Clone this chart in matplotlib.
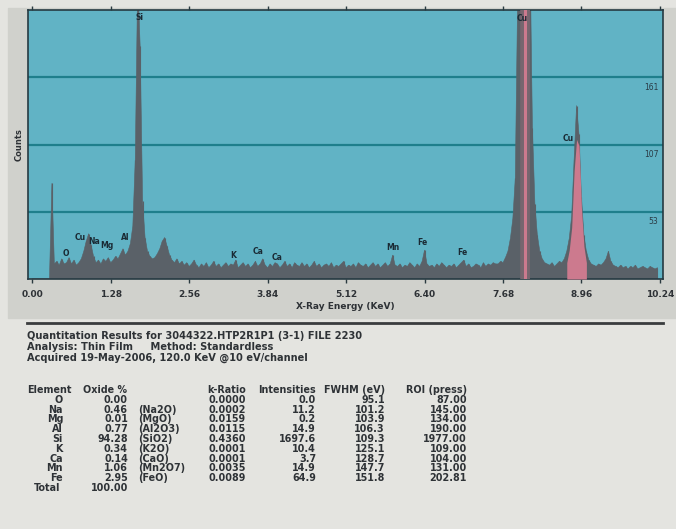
import numpy as np
import matplotlib
matplotlib.use("Agg")
import matplotlib.pyplot as plt
from matplotlib.patches import Rectangle
from matplotlib.lines import Line2D

plt.rcParams["font.family"] = ["DejaVu Sans"]

# EDS spectrum, one value per 0.04 keV channel starting at 0.00 keV
channel_kev = 0.04
counts = [
    0, 0, 0, 0, 0, 0, 0, 0, 76, 12,            # 0.00 - 0.36
    14, 11, 16, 12, 13, 17, 12, 15, 11, 13,     # 0.40 - 0.76
    16, 22, 30, 36, 27, 18, 13, 15, 12, 16,     # 0.80 - 1.16
    14, 17, 13, 15, 18, 16, 20, 24, 19, 22,     # 1.20 - 1.56
    28, 42, 95, 240, 185, 62, 33, 22, 18, 16,   # 1.60 - 1.96
    17, 20, 24, 30, 33, 26, 19, 15, 13, 16,     # 2.00 - 2.36
    12, 14, 11, 13, 10, 12, 15, 11, 9, 12,      # 2.40 - 2.76
    10, 13, 9, 11, 14, 10, 12, 9, 11, 13,       # 2.80 - 3.16
    10, 12, 11, 15, 9, 11, 13, 10, 12, 9,       # 3.20 - 3.56
    11, 14, 10, 12, 16, 11, 9, 12, 10, 13,      # 3.60 - 3.96
    12, 9, 11, 14, 10, 12, 9, 13, 11, 10,       # 4.00 - 4.36
    13, 10, 12, 9, 11, 14, 10, 12, 9, 11,       # 4.40 - 4.76
    12, 10, 13, 9, 11, 10, 12, 14, 9, 11,       # 4.80 - 5.16
    10, 12, 9, 13, 11, 10, 12, 9, 11, 13,       # 5.20 - 5.56
    10, 12, 9, 11, 13, 10, 12, 19, 11, 10,      # 5.60 - 5.96
    12, 9, 11, 10, 13, 11, 9, 12, 10, 14,       # 6.00 - 6.36
    23, 12, 10, 11, 9, 12, 10, 13, 11, 9,       # 6.40 - 6.76
    11, 10, 12, 9, 11, 13, 15, 10, 12, 9,       # 6.80 - 7.16
    10, 12, 11, 9, 13, 10, 12, 11, 13, 12,      # 7.20 - 7.56
    12, 14, 13, 17, 22, 32, 48, 80, 230, 420,   # 7.60 - 7.96
    600, 600, 450, 260, 120, 60, 35, 22, 16, 13,  # 8.00 - 8.36
    12, 11, 13, 10, 12, 14, 13, 16, 22, 32,     # 8.40 - 8.76
    50, 95, 138, 115, 65, 35, 22, 15, 12, 11,   # 8.80 - 9.16
    10, 12, 11, 13, 16, 22, 14, 11, 10, 9,      # 9.20 - 9.56
    11, 9, 10, 8, 10, 9, 11, 8, 9, 10,          # 9.60 - 9.96
    9, 8, 10, 9, 8, 9,                          # 10.00 - 10.20
]

tick_kev = [0.00, 1.28, 2.56, 3.84, 5.12, 6.40, 7.68, 8.96, 10.24]
grid_counts = [53.5, 107, 160.5]
grid_labels = ["53", "107", "161"]
full_scale = 214

# peak labels: (text, energy keV, counts)
peak_labels = [
    ("O", 0.54, 20), ("Cu", 0.78, 33), ("Na", 1.01, 30), ("Mg", 1.21, 27),
    ("Al", 1.52, 33), ("Si", 1.75, 208), ("K", 3.28, 19), ("Ca", 3.68, 22),
    ("Ca", 4.00, 17), ("Mn", 5.88, 25), ("Fe", 6.37, 29), ("Fe", 7.01, 21),
    ("Cu", 7.99, 207), ("Cu", 8.74, 112),
]
cu_ka_kev = 8.04
cu_ka_roi = (7.96, 8.12)
cu_kb_roi = (8.72, 9.04)
cu_kb_cap = 120
roi_margin = 9

# quantitation table
elements = ["O", "Na", "Mg", "Al", "Si", "K", "Ca", "Mn", "Fe"]
oxide_pct = ["0.00", "0.46", "0.01", "0.77", "94.28", "0.34", "0.14", "1.06", "2.95"]
oxides = ["", "(Na2O)", "(MgO)", "(Al2O3)", "(SiO2)", "(K2O)", "(CaO)", "(Mn2O7)", "(FeO)"]
k_ratio = ["0.0000", "0.0002", "0.0159", "0.0115", "0.4360", "0.0001", "0.0001", "0.0035", "0.0089"]
intensities = ["0.0", "11.2", "0.2", "14.9", "1697.6", "10.4", "3.7", "14.9", "64.9"]
fwhm = ["95.1", "101.2", "103.9", "106.3", "109.3", "125.1", "128.7", "147.7", "151.8"]
roi = ["87.00", "145.00", "134.00", "190.00", "1977.00", "109.00", "104.00", "131.00", "202.81"]
total_pct = "100.00"

W, H = 676, 529
page_bg = "#e4e4e0"
panel_bg = "#d0d1cc"
plot_bg = "#61b3c5"
grid_col = "#1f7f8c"
spec_col = "#5a6168"
pink = "#cc7a8e"
mauve = "#76666f"
ink = "#2e3236"

fig = plt.figure(figsize=(W / 100, H / 100), dpi=100, facecolor=page_bg)


def fx(x):
    return x / W


def fy(y):
    return 1 - y / H


# grey panel behind the spectrum
fig.patches.append(Rectangle((fx(8), fy(318)), fx(W - 8), 310 / H,
                             transform=fig.transFigure, color=panel_bg, zorder=-5))

ax = fig.add_axes([fx(28), fy(279), 635 / W, 269 / H])
ax.set_facecolor(plot_bg)

energy = np.arange(len(counts)) * channel_kev
counts = np.array(counts, dtype=float)

for g in grid_counts:
    ax.axhline(g, color=grid_col, lw=1.6, zorder=1)

ax.fill_between(energy, counts, color=spec_col, lw=0.4, edgecolor=spec_col, zorder=2)
ax.vlines(energy, 0, counts, color=spec_col, lw=0.8, zorder=2)

# highlighted Cu regions
ka = (energy >= cu_ka_roi[0] - 1e-9) & (energy <= cu_ka_roi[1] + 1e-9)
ax.fill_between(energy[ka], counts[ka] * 0.97, color=mauve, lw=0, zorder=3)
ax.axvline(cu_ka_kev, color=pink, lw=2.2, zorder=4)
kb = (energy >= cu_kb_roi[0] - 1e-9) & (energy <= cu_kb_roi[1] + 1e-9)
kb_fill = np.clip(np.minimum(counts[kb], cu_kb_cap) - roi_margin, 0, None)
ax.fill_between(energy[kb], kb_fill, color=pink, lw=0, zorder=3)

for txt, e, c in peak_labels:
    ax.text(e, c, txt, fontsize=5.5, fontweight="bold", color="#1a2a34",
            ha="center", va="center", zorder=5)

for g, lab in zip(grid_counts, grid_labels):
    ax.text(0.993, g - 8, lab, transform=ax.get_yaxis_transform(),
            fontsize=5.5, color="#2a3a44", ha="right", va="center", zorder=5)

ax.set_xlim(-0.07, 10.29)
ax.set_ylim(0, full_scale)
ax.set_xticks(tick_kev)
ax.set_xticklabels([f"{t:.2f}" for t in tick_kev])
ax.set_yticks([])
ax.tick_params(axis="x", which="both", direction="out", length=3, width=1,
               color="#2a3a40", labelsize=6.5, labelcolor=ink, pad=5,
               top=True)
for lab in ax.get_xticklabels():
    lab.set_fontweight("bold")
for s in ax.spines.values():
    s.set_color("#263a42")
    s.set_linewidth(1.2)

ax.set_xlabel("X-Ray Energy (KeV)", fontsize=6.5, fontweight="bold",
              color=ink, labelpad=2)
ax.set_ylabel("Counts", fontsize=6, fontweight="bold", color=ink, labelpad=3)

# separator line and report header
fig.lines.append(Line2D([fx(27), fx(663)], [fy(323), fy(323)],
                        transform=fig.transFigure, color="#3a3c3e", lw=2))

head = [
    "Quantitation Results for 3044322.HTP2R1P1 (3-1) FILE 2230",
    "Analysis: Thin Film     Method: Standardless",
    "Acquired 19-May-2006, 120.0 KeV @10 eV/channel",
]
for i, line in enumerate(head):
    fig.text(fx(27), fy(336 + i * 11), line, fontsize=7.1, fontweight="bold",
             color=ink, ha="left", va="center")

tkw = dict(fontsize=6.9, fontweight="bold", color=ink, va="center")
y0 = 390
row_h = 9.8
fig.text(fx(27), fy(y0), "Element", ha="left", **tkw)
fig.text(fx(83), fy(y0), "Oxide %", ha="left", **tkw)
fig.text(fx(246), fy(y0), "k-Ratio", ha="right", **tkw)
fig.text(fx(316), fy(y0), "Intensities", ha="right", **tkw)
fig.text(fx(385), fy(y0), "FWHM (eV)", ha="right", **tkw)
fig.text(fx(467), fy(y0), "ROI (press)", ha="right", **tkw)

for i in range(len(elements)):
    y = fy(y0 + (i + 1) * row_h)
    fig.text(fx(63), y, elements[i], ha="right", **tkw)
    fig.text(fx(128), y, oxide_pct[i], ha="right", **tkw)
    fig.text(fx(138), y, oxides[i], ha="left", **tkw)
    fig.text(fx(246), y, k_ratio[i], ha="right", **tkw)
    fig.text(fx(316), y, intensities[i], ha="right", **tkw)
    fig.text(fx(385), y, fwhm[i], ha="right", **tkw)
    fig.text(fx(467), y, roi[i], ha="right", **tkw)

y = fy(y0 + (len(elements) + 1) * row_h)
fig.text(fx(60), y, "Total", ha="right", **tkw)
fig.text(fx(128), y, total_pct, ha="right", **tkw)

fig.savefig("out.png", dpi=100, facecolor=page_bg)
